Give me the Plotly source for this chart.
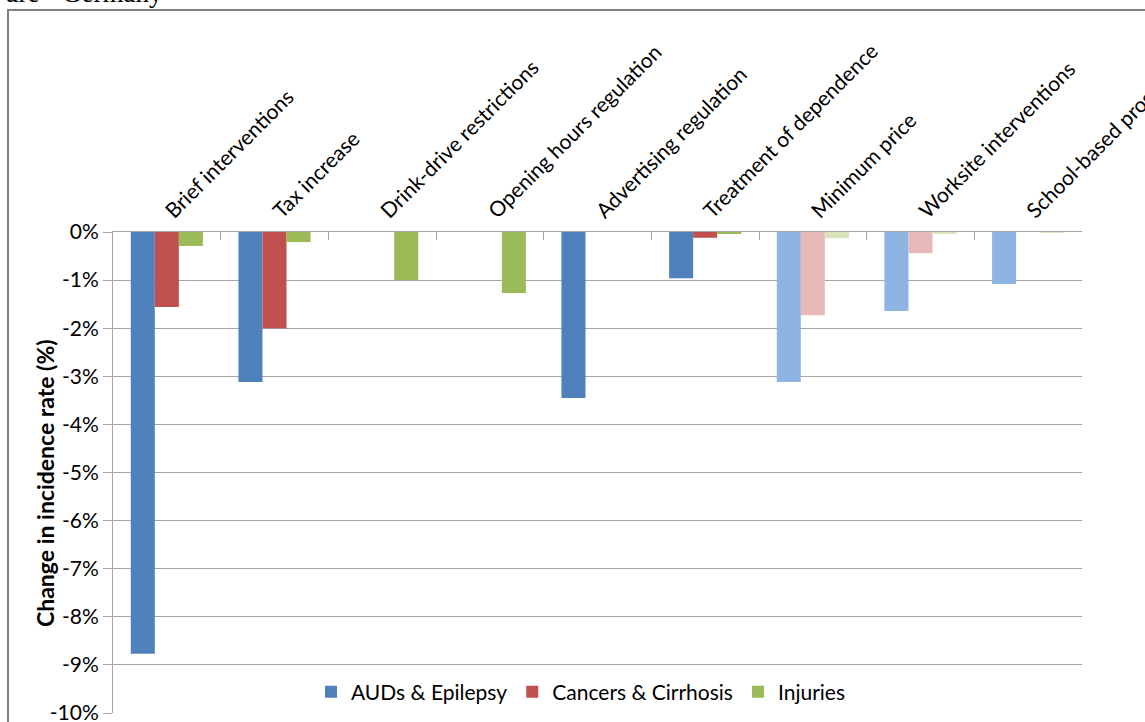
import plotly.graph_objects as go

categories = ["Brief interventions", "Tax increase", "Drink-drive restrictions",
              "Opening hours regulation", "Advertising regulation",
              "Treatment of dependence", "Minimum price", "Worksite interventions",
              "School-based programs"]
auds = [-8.77, -3.12, 0.0, 0.0, -3.45, -0.96, -3.12, -1.64, -1.08]
cancers = [-1.56, -2.0, 0.0, 0.0, 0.0, -0.12, -1.73, -0.44, 0.0]
injuries = [-0.29, -0.21, -1.0, -1.27, 0.0, -0.03, -0.13, -0.03, -0.02]
series_names = ["AUDs & Epilepsy", "Cancers & Cirrhosis", "Injuries"]
y_ticks = [0, -1, -2, -3, -4, -5, -6, -7, -8, -9, -10]
light_from = 6  # index from which bars are drawn in lighter shades

dark = ["#4F81BD", "#C0504D", "#9BBB59"]
light = ["#8DB4E2", "#E6B9B8", "#D7E4BC"]

W, H = 1145, 722
L, R, T, B = 113, 1082, 232, 713
FONT = "Lato"
FS = 21

fig = go.Figure()
for vals, name, dc, lc in zip([auds, cancers, injuries], series_names, dark, light):
    colors = [dc if i < light_from else lc for i in range(len(categories))]
    fig.add_trace(go.Bar(x=categories, y=vals, name=name,
                         marker=dict(color=colors, line=dict(width=0))))

fig.update_layout(
    width=W, height=H,
    margin=dict(l=L, r=W - R, t=T, b=H - B, autoexpand=False),
    paper_bgcolor="white", plot_bgcolor="white",
    barmode="group", bargap=0.33, bargroupgap=0,
    font=dict(family=FONT, size=FS, color="#000000"),
    showlegend=True,
    legend=dict(orientation="h", x=(581 - L) / (R - L), xanchor="center",
                y=(B - 692) / (B - T), yanchor="middle",
                font=dict(family=FONT, size=FS, color="#000000"),
                itemwidth=30, bgcolor="rgba(0,0,0,0)", traceorder="normal"),
    xaxis=dict(side="top", tickangle=-45, showgrid=False, showline=True,
               linecolor="#A6A6A6", linewidth=1, ticks="inside", ticklen=8,
               tickcolor="#A6A6A6", tickson="boundaries",
               tickfont=dict(family=FONT, size=FS, color="#000000"),
               range=[-0.5, 8.5]),
    yaxis=dict(range=[-10, 0], tickvals=y_ticks,
               ticktext=[f"{v}%" for v in y_ticks],
               ticklabeloverflow="allow",
               showgrid=True, gridcolor="#A6A6A6", gridwidth=1,
               showline=True, linecolor="#A6A6A6", linewidth=1,
               ticks="outside", ticklen=9, tickcolor="#A6A6A6",
               zeroline=False,
               tickfont=dict(family=FONT, size=FS, color="#000000")),
)

pw, ph = R - L, B - T
fig.add_annotation(text="<b>Change in incidence rate (%)</b>", textangle=-90,
                   xref="paper", yref="paper",
                   x=(45 - L) / pw, y=(B - 483) / ph, xanchor="center", yanchor="middle",
                   showarrow=False, font=dict(family=FONT, size=23, color="#000000"))
fig.add_annotation(text="ure - Germany", xref="paper", yref="paper",
                   x=(165 - L) / pw, y=(B + 24) / ph, xanchor="right", yanchor="top",
                   showarrow=False, font=dict(family="Liberation Serif", size=27, color="#000000"))
fig.add_shape(type="rect", xref="paper", yref="paper",
              x0=(8 - L) / pw, x1=(W + 20 - L) / pw,
              y0=(B - (H + 20)) / ph, y1=(B - 10) / ph,
              line=dict(color="#808080", width=2), fillcolor="rgba(0,0,0,0)", layer="below")

fig.write_html("out.html", config={"displayModeBar": False},
               post_script="document.body.style.margin='0';document.body.style.overflow='hidden';")
